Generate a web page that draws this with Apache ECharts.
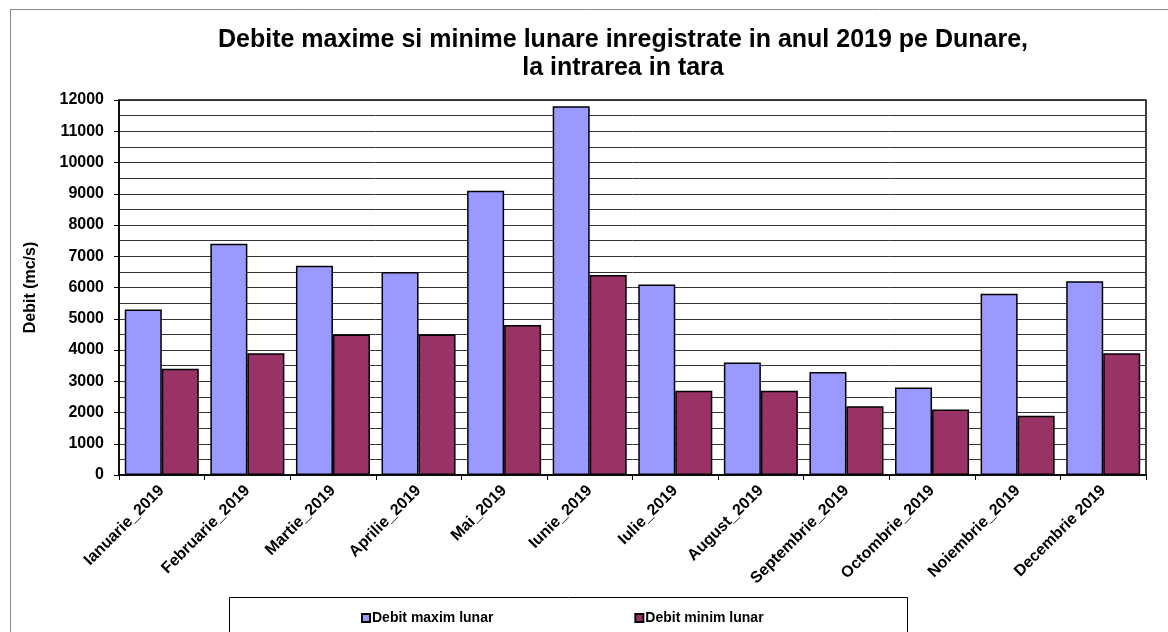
<!DOCTYPE html>
<html><head><meta charset="utf-8">
<script src="https://cdn.jsdelivr.net/npm/echarts@6/dist/echarts.min.js"></script>
<style>html,body{margin:0;padding:0;background:#fff}#c{width:1168px;height:632px}</style>
</head><body><div id="c"></div>
<script>
const categories = ['Ianuarie_2019','Februarie_2019','Martie_2019','Aprilie_2019','Mai_2019','Iunie_2019','Iulie_2019','August_2019','Septembrie_2019','Octombrie_2019','Noiembrie_2019','Decembrie 2019'];
const debitMaxim = [5300, 7400, 6700, 6500, 9100, 11800, 6100, 3600, 3300, 2800, 5800, 6200];
const debitMinim = [3400, 3900, 4500, 4500, 4800, 6400, 2700, 2700, 2200, 2100, 1900, 3900];
const seriesNames = ['Debit maxim lunar', 'Debit minim lunar'];
const yMin = 0, yMax = 12000, yStep = 1000;

const FONT = 'Arial, "Liberation Sans", sans-serif';
const chart = echarts.init(document.getElementById('c'), null, {renderer: 'canvas'});
chart.setOption({
  animation: false,
  backgroundColor: '#fff',
  title: {
    text: 'Debite maxime si minime lunare inregistrate in anul 2019 pe Dunare,\nla intrarea in tara',
    left: 618, textAlign: 'center', top: 21,
    textStyle: {fontFamily: FONT, fontSize: 25, fontWeight: 'bold', color: '#000', lineHeight: 28}
  },
  graphic: [
    {type: 'rect', shape: {x: 10.5, y: 9.5, width: 1180, height: 640}, style: {fill: null, stroke: '#888', lineWidth: 1}, z: -10},
    {type: 'rect', shape: {x: 229.5, y: 597.5, width: 678, height: 60}, style: {fill: '#fff', stroke: '#000', lineWidth: 1}, z: 0}
  ],
  legend: {
    data: seriesNames, left: 356, top: 606, itemWidth: 8, itemHeight: 8, itemGap: 141,
    icon: 'rect', z: 10,
    textStyle: {fontFamily: FONT, fontSize: 14, fontWeight: 'bold', color: '#000', padding: [0,0,0,-3]}
  },
  grid: {left: 119, right: 22, top: 100, bottom: 157, show: true, borderColor: '#000', borderWidth: 1.5, backgroundColor: 'transparent'},
  xAxis: {
    type: 'category', data: categories,
    axisLine: {lineStyle: {color: '#000', width: 1.5}},
    axisTick: {show: true, alignWithLabel: false, length: 5, lineStyle: {color: '#000'}},
    axisLabel: {rotate: 45, interval: 0, margin: 13, fontFamily: FONT, fontSize: 16, fontWeight: 'bold', color: '#000'}
  },
  yAxis: {
    type: 'value', min: yMin, max: yMax, interval: yStep,
    name: 'Debit (mc/s)', nameLocation: 'middle', nameGap: 80, nameRotate: 90,
    nameTextStyle: {fontFamily: FONT, fontSize: 16, fontWeight: 'bold', color: '#000'},
    axisLine: {show: true, lineStyle: {color: '#000', width: 1.5}},
    axisTick: {show: true, length: 5, lineStyle: {color: '#000'}},
    axisLabel: {margin: 15, fontFamily: FONT, fontSize: 16, fontWeight: 'bold', color: '#000', formatter: v => String(v)},
    splitLine: {show: true, lineStyle: {color: '#333', width: 1}},
    minorTick: {show: false, splitNumber: 2},
    minorSplitLine: {show: true, lineStyle: {color: '#333', width: 1}}
  },
  series: [
    {name: seriesNames[0], type: 'bar', data: debitMaxim, barGap: '0%', barCategoryGap: '13.5%',
     itemStyle: {color: '#9999FF', borderColor: '#000', borderWidth: 1.5}},
    {name: seriesNames[1], type: 'bar', data: debitMinim,
     itemStyle: {color: '#993366', borderColor: '#000', borderWidth: 1.5}}
  ]
});
</script></body></html>
